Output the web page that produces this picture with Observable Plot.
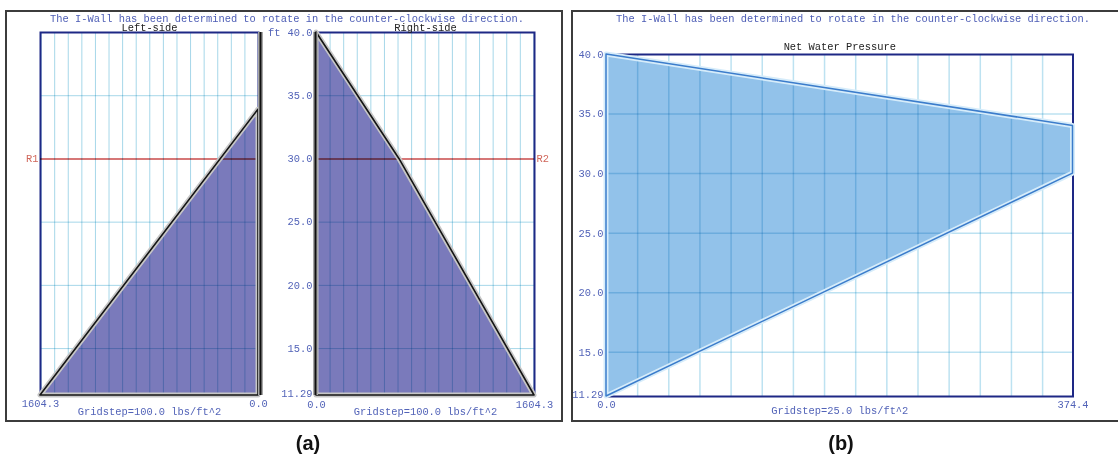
<!DOCTYPE html>
<html>
<head>
<meta charset="utf-8">
<script src="https://cdn.jsdelivr.net/npm/d3@7"></script>
<script src="https://cdn.jsdelivr.net/npm/@observablehq/plot@0.6"></script>
<style>
  html, body { margin: 0; padding: 0; background: #fff; overflow: hidden; }
  #root { position: relative; width: 1118px; height: 458px; overflow: hidden; }
  .layer { position: absolute; left: 0; top: 0; }
  .panel { position: absolute; border: 2px solid #3c3c3c; box-sizing: border-box; }
  .msg { position: absolute; top: 12.5px; height: 9px; line-height: 9px; font: 10.4px "Liberation Mono", "DejaVu Sans Mono", monospace; color: #4d5db5; white-space: nowrap; transform: translateX(-50%); }
  .cap { position: absolute; top: 432px; line-height: 28px; font: bold 20px "Liberation Sans", Arial, sans-serif; color: #111; transform: translateX(-50%); }
</style>
</head>
<body>
<div id="root">
  <div class="panel" style="left:5px;top:10px;width:558px;height:412px;"></div>
  <div class="panel" style="left:571px;top:10px;width:560px;height:412px;"></div>
  <div class="msg" id="msgA" style="left:287px;"></div>
  <div class="msg" id="msgB" style="left:853px;"></div>
  <div class="cap" style="left:308px;">(a)</div>
  <div class="cap" style="left:841px;">(b)</div>
</div>
<script>
// ---------------- data ----------------
const message = "The I-Wall has been determined to rotate in the counter-clockwise direction.";
const yTickValues = [40.0, 35.0, 30.0, 25.0, 20.0, 15.0, 11.29];
const yTickLabels = ["40.0", "35.0", "30.0", "25.0", "20.0", "15.0", "11.29"];
const gridYA = [15, 20, 25, 35];
const gridYB = [15, 20, 25, 30, 35];
const rotationLevel = 30.0;
const maxPressureA = 1604.3;
const maxPressureB = 374.4;
const gridStepA = 100;
const gridStepB = 25;
const depthTop = 40.0;
const depthBottom = 11.29;

// Left-side pressure (lbs/ft^2) vs elevation (ft)
const leftDepth = [33.9, 11.29];
const leftPressure = [0, 1604.3];
// Right-side
const rightDepth = [40.0, 30.0, 11.29];
const rightPressure = [0, 610, 1604.3];
// Net water pressure
const netDepth = [40.0, 34.0, 30.0, 11.29];
const netPressure = [0, 374.4, 374.4, 0];

// ---------------- build ----------------
const W = 1118, H = 458;
const MONO = "'Liberation Mono', 'DejaVu Sans Mono', monospace";
const BLUE_TXT = "#5263b8";
const NAVY = "#1e2885";
const GRID = "#a6d7e9";
const GRID_B = "#bde2f1";
const FILL_A = "#7a7abb";
const FILL_B = "#92c2ea";

const toRows = (ds, ps) => ds.map((d, i) => ({depth: d, p: ps[i]}));
const leftData = toRows(leftDepth, leftPressure);
const rightData = toRows(rightDepth, rightPressure);
const netData = toRows(netDepth, netPressure);
const gridA = d3.range(gridStepA, maxPressureA, gridStepA);
const gridB = d3.range(gridStepB, maxPressureB, gridStepB);
const fmt1 = d => d.toFixed(1);

document.getElementById("msgA").textContent = message;
document.getElementById("msgB").textContent = message;

const style = {background: "transparent", fontFamily: MONO, fontSize: "10.4px", overflow: "visible"};
const root = document.getElementById("root");
function add(plot) { plot.classList.add("layer"); root.appendChild(plot); }

function yLabels(dx) {
  const lab = d => yTickLabels[yTickValues.indexOf(d)];
  return [
    Plot.text(yTickValues.filter(d => d !== depthBottom), {x: 0, y: d => d, text: lab, textAnchor: "end", lineAnchor: "middle", dx, fill: BLUE_TXT}),
    Plot.text([depthBottom], {x: 0, y: d => d, text: lab, textAnchor: "end", lineAnchor: "middle", dx, dy: -2, fill: BLUE_TXT})
  ];
}

// Left-side
add(Plot.plot({
  width: W, height: H, style,
  marginLeft: 40, marginRight: W - 258, marginTop: 32, marginBottom: H - 395,
  x: {domain: [maxPressureA, 0], axis: null},
  y: {domain: [depthBottom, depthTop], axis: null},
  marks: [
    Plot.areaX(leftData, {x: "p", y: "depth", fill: FILL_A}),
    Plot.ruleX(gridA, {x: d => d, stroke: GRID, strokeWidth: 1, mixBlendMode: "multiply"}),
    Plot.ruleY(gridYA, {y: d => d, stroke: GRID, strokeWidth: 1, mixBlendMode: "multiply"}),
    Plot.frame({stroke: NAVY, strokeWidth: 2}),
    Plot.ruleY([rotationLevel], {y: d => d, stroke: "#c94a4a", strokeWidth: 1.6, mixBlendMode: "multiply"}),
    Plot.areaX(leftData, {x: "p", y: "depth", fill: "none", stroke: "#c6c6c6", strokeWidth: 5}),
    Plot.areaX(leftData, {x: "p", y: "depth", fill: "none", stroke: "#151515", strokeWidth: 1.6}),
    Plot.ruleX([0], {x: d => d, dx: 2, stroke: "#a8a8a8", strokeWidth: 5}),
    Plot.ruleX([0], {x: d => d, dx: 2, stroke: "#111", strokeWidth: 2}),
    Plot.text(["Left-side"], {text: d => d, frameAnchor: "top", lineAnchor: "middle", dy: -4.5, fill: "#222"}),
    Plot.text(["R1"], {text: d => d, x: maxPressureA, y: rotationLevel, textAnchor: "end", lineAnchor: "middle", dx: -2, fill: "#d0665a"}),
    Plot.text([maxPressureA, 0], {x: d => d, text: fmt1, frameAnchor: "bottom", lineAnchor: "middle", dy: 8, fill: BLUE_TXT}),
    Plot.text([`Gridstep=${gridStepA.toFixed(1)} lbs/ft^2`], {text: d => d, frameAnchor: "bottom", lineAnchor: "middle", dy: 16, fill: BLUE_TXT})
  ]
}));

// Right-side
add(Plot.plot({
  width: W, height: H, style,
  marginLeft: 316, marginRight: W - 534, marginTop: 32, marginBottom: H - 395,
  x: {domain: [0, maxPressureA], axis: null},
  y: {domain: [depthBottom, depthTop], axis: null},
  marks: [
    Plot.areaX(rightData, {x: "p", y: "depth", fill: FILL_A}),
    Plot.ruleX(gridA, {x: d => d, stroke: GRID, strokeWidth: 1, mixBlendMode: "multiply"}),
    Plot.ruleY(gridYA, {y: d => d, stroke: GRID, strokeWidth: 1, mixBlendMode: "multiply"}),
    Plot.frame({stroke: NAVY, strokeWidth: 2}),
    Plot.ruleY([rotationLevel], {y: d => d, stroke: "#c94a4a", strokeWidth: 1.6, mixBlendMode: "multiply"}),
    Plot.areaX(rightData, {x: "p", y: "depth", fill: "none", stroke: "#c6c6c6", strokeWidth: 5}),
    Plot.areaX(rightData, {x: "p", y: "depth", fill: "none", stroke: "#151515", strokeWidth: 1.6}),
    Plot.ruleX([0], {x: d => d, dx: -1, stroke: "#a8a8a8", strokeWidth: 5}),
    Plot.ruleX([0], {x: d => d, dx: -1, stroke: "#111", strokeWidth: 2}),
    Plot.text(["Right-side"], {text: d => d, frameAnchor: "top", lineAnchor: "middle", dy: -4.5, fill: "#222"}),
    Plot.text(["R2"], {text: d => d, x: maxPressureA, y: rotationLevel, textAnchor: "start", lineAnchor: "middle", dx: 2, fill: "#d0665a"}),
    ...yLabels(-4),
    Plot.text(["ft"], {text: d => d, x: 0, y: depthTop, textAnchor: "end", lineAnchor: "middle", dx: -36, fill: BLUE_TXT}),
    Plot.text([0, maxPressureA], {x: d => d, text: fmt1, frameAnchor: "bottom", lineAnchor: "middle", dy: 9, fill: BLUE_TXT}),
    Plot.text([`Gridstep=${gridStepA.toFixed(1)} lbs/ft^2`], {text: d => d, frameAnchor: "bottom", lineAnchor: "middle", dy: 16, fill: BLUE_TXT})
  ]
}));

// Net water pressure
add(Plot.plot({
  width: W, height: H, style,
  marginLeft: 606, marginRight: W - 1072.5, marginTop: 54, marginBottom: H - 396,
  x: {domain: [0, maxPressureB], axis: null},
  y: {domain: [depthBottom, depthTop], axis: null},
  marks: [
    Plot.areaX(netData, {x: "p", y: "depth", fill: FILL_B}),
    Plot.ruleX(gridB, {x: d => d, stroke: GRID_B, strokeWidth: 1.5, mixBlendMode: "multiply"}),
    Plot.ruleY(gridYB, {y: d => d, stroke: GRID_B, strokeWidth: 1.5, mixBlendMode: "multiply"}),
    Plot.frame({stroke: NAVY, strokeWidth: 2}),
    Plot.areaX(netData, {x: "p", y: "depth", fill: "none", stroke: "#d6ecfa", strokeWidth: 5}),
    Plot.areaX(netData, {x: "p", y: "depth", fill: "none", stroke: "#3b7ccb", strokeWidth: 1.5}),
    Plot.text(["Net Water Pressure"], {text: d => d, frameAnchor: "top", lineAnchor: "middle", dy: -8, fill: "#222"}),
    ...yLabels(-3),
    Plot.text([0, maxPressureB], {x: d => d, text: fmt1, frameAnchor: "bottom", lineAnchor: "middle", dy: 8, fill: BLUE_TXT}),
    Plot.text([`Gridstep=${gridStepB.toFixed(1)} lbs/ft^2`], {text: d => d, frameAnchor: "bottom", lineAnchor: "middle", dy: 14, fill: BLUE_TXT})
  ]
}));
</script>
</body>
</html>
